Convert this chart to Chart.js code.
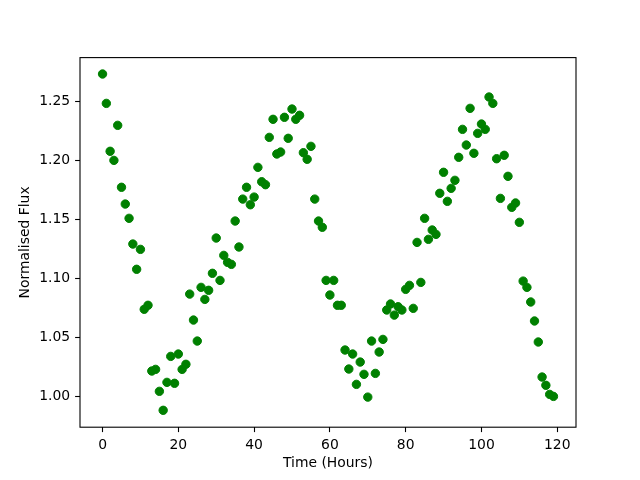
<!DOCTYPE html>
<html>
<head>
<meta charset="utf-8">
<script src="https://cdn.jsdelivr.net/npm/chart.js@4.4.1/dist/chart.umd.min.js"></script>
<style>
  body { margin: 0; background: #fff; }
  canvas { display: block; }
</style>
</head>
<body>
<canvas id="fluxChart" width="640" height="480"></canvas>
<script>
const hours = [
  0, 1, 2, 3, 4, 5, 6, 7, 8, 9, 10, 11, 12, 13, 14, 15, 16, 17, 18, 19,
  20, 21, 22, 23, 24, 25, 26, 27, 28, 29, 30, 31, 32, 33, 34, 35, 36, 37, 38, 39,
  40, 41, 42, 43, 44, 45, 46, 47, 48, 49, 50, 51, 52, 53, 54, 55, 56, 57, 58, 59,
  60, 61, 62, 63, 64, 65, 66, 67, 68, 69, 70, 71, 72, 73, 74, 75, 76, 77, 78, 79,
  80, 81, 82, 83, 84, 85, 86, 87, 88, 89, 90, 91, 92, 93, 94, 95, 96, 97, 98, 99,
  100, 101, 102, 103, 104, 105, 106, 107, 108, 109, 110, 111, 112, 113, 114, 115, 116, 117, 118, 119
];

const flux = [
  1.2735, 1.2486, 1.2080, 1.2003, 1.2300, 1.1775, 1.1633, 1.1512, 1.1294, 1.1080,
  1.1249, 1.0741, 1.0775, 1.0218, 1.0232, 1.0046, 0.9885, 1.0122, 1.0342, 1.0114,
  1.0362, 1.0232, 1.0275, 1.0870, 1.0650, 1.0472, 1.0927, 1.0825, 1.0902, 1.1046,
  1.1345, 1.0986, 1.1198, 1.1139, 1.1122, 1.1489, 1.1269, 1.1675, 1.1775, 1.1627,
  1.1692, 1.1944, 1.1822, 1.1797, 1.2198, 1.2351, 1.2057, 1.2074, 1.2368, 1.2190,
  1.2438, 1.2351, 1.2385, 1.2068, 1.2012, 1.2122, 1.1675, 1.1489, 1.1436, 1.0986,
  1.0862, 1.0986, 1.0775, 1.0775, 1.0396, 1.0235, 1.0362, 1.0105, 1.0294, 1.0190,
  0.9997, 1.0472, 1.0198, 1.0379, 1.0486, 1.0735, 1.0786, 1.0692, 1.0763, 1.0735,
  1.0910, 1.0944, 1.0749, 1.1308, 1.0969, 1.1512, 1.1334, 1.1413, 1.1376, 1.1724,
  1.1902, 1.1656, 1.1766, 1.1834, 1.2029, 1.2266, 1.2133, 1.2444, 1.2063, 1.2232,
  1.2311, 1.2266, 1.2540, 1.2486, 1.2017, 1.1681, 1.2046, 1.1868, 1.1605, 1.1642,
  1.1478, 1.0980, 1.0927, 1.0803, 1.0642, 1.0464, 1.0167, 1.0097, 1.0020, 1.0003
];

const xTicks = [0, 20, 40, 60, 80, 100, 120];
const yTicks = [1.00, 1.05, 1.10, 1.15, 1.20, 1.25];

Chart.defaults.font.family = 'DejaVu Sans';
Chart.defaults.font.size = 13.9;
Chart.defaults.color = '#000';

// matplotlib-style box round the axes
const frame = {
  id: 'frame',
  afterDraw(chart) {
    const { ctx, chartArea: a } = chart;
    ctx.save();
    ctx.strokeStyle = '#000';
    ctx.lineWidth = 1.1;
    ctx.strokeRect(a.left, a.top, a.right - a.left, a.bottom - a.top);
    ctx.restore();
  }
};

new Chart(document.getElementById('fluxChart'), {
  type: 'scatter',
  data: {
    datasets: [{
      data: hours.map((h, i) => ({ x: h, y: flux[i] })),
      backgroundColor: '#008000',
      borderColor: '#008000',
      borderWidth: 1,
      pointRadius: 4.2,
      pointHoverRadius: 4.2
    }]
  },
  options: {
    responsive: false,
    animation: false,
    layout: { padding: { top: 57.6, right: 64, bottom: 0, left: 0 } },
    plugins: { legend: { display: false }, tooltip: { enabled: false } },
    scales: {
      x: {
        type: 'linear',
        min: -5.95,
        max: 124.95,
        afterBuildTicks: s => { s.ticks = xTicks.map(v => ({ value: v })); },
        afterFit: s => { s.height = 52.8; },
        ticks: { padding: 4.9, maxRotation: 0, callback: v => String(v) },
        grid: { drawOnChartArea: false, tickLength: 4.9, tickColor: '#000', tickWidth: 1.1 },
        border: { display: false },
        title: { display: true, text: 'Time (Hours)', padding: { top: 0, bottom: 8 } }
      },
      y: {
        type: 'linear',
        min: 0.9742,
        max: 1.2874,
        afterBuildTicks: s => { s.ticks = yTicks.map(v => ({ value: v })); },
        afterFit: s => { s.width = 80; },
        ticks: { padding: 4.9, callback: v => v.toFixed(2) },
        grid: { drawOnChartArea: false, tickLength: 4.9, tickColor: '#000', tickWidth: 1.1 },
        border: { display: false },
        title: { display: true, text: 'Normalised Flux', padding: { top: 17.4, bottom: 0 } }
      }
    }
  },
  plugins: [frame]
});
</script>
</body>
</html>
